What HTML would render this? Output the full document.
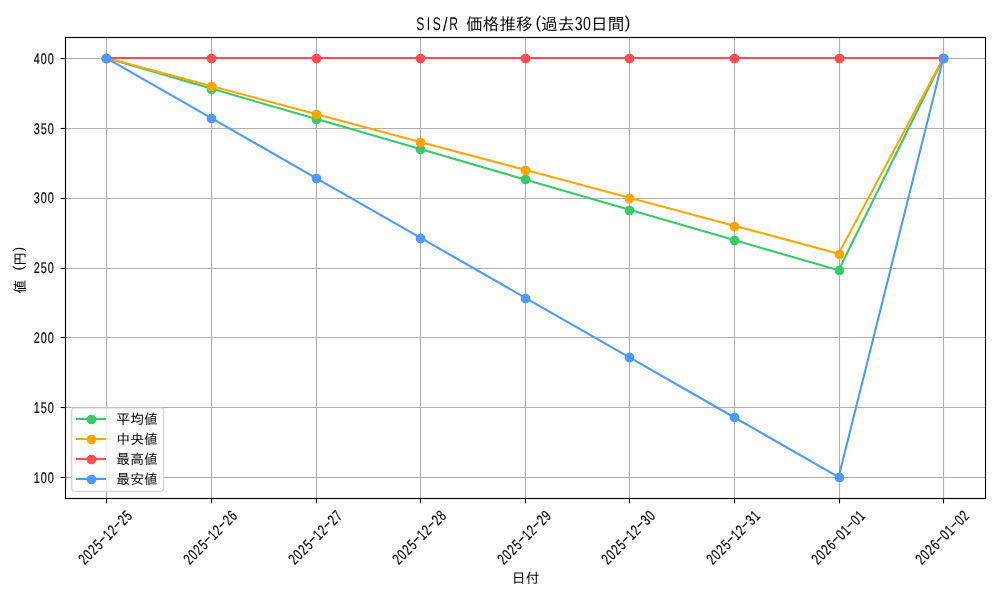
<!DOCTYPE html>
<html lang="ja"><head><meta charset="utf-8"><title>SIS/R 価格推移(過去30日間)</title>
<style>html,body{margin:0;padding:0;background:#fff}svg{display:block}text{font-family:"Liberation Sans", "IPAGothic", sans-serif;fill:#000}.l{text-rendering:geometricPrecision}.d{stroke:#000;stroke-width:0.2px}</style></head><body>
<svg width="1000" height="600" viewBox="0 0 1000 600">
<rect width="1000" height="600" fill="#fff"/>
<g stroke="#b0b0b0" stroke-width="1.11" fill="none">
<line x1="106.5" y1="37.50" x2="106.5" y2="498.50"/>
<line x1="211.5" y1="37.50" x2="211.5" y2="498.50"/>
<line x1="316.5" y1="37.50" x2="316.5" y2="498.50"/>
<line x1="420.5" y1="37.50" x2="420.5" y2="498.50"/>
<line x1="525.5" y1="37.50" x2="525.5" y2="498.50"/>
<line x1="629.5" y1="37.50" x2="629.5" y2="498.50"/>
<line x1="734.5" y1="37.50" x2="734.5" y2="498.50"/>
<line x1="839.5" y1="37.50" x2="839.5" y2="498.50"/>
<line x1="943.5" y1="37.50" x2="943.5" y2="498.50"/>
<line x1="65.50" y1="477.5" x2="985.50" y2="477.5"/>
<line x1="65.50" y1="407.5" x2="985.50" y2="407.5"/>
<line x1="65.50" y1="337.5" x2="985.50" y2="337.5"/>
<line x1="65.50" y1="268.5" x2="985.50" y2="268.5"/>
<line x1="65.50" y1="198.5" x2="985.50" y2="198.5"/>
<line x1="65.50" y1="128.5" x2="985.50" y2="128.5"/>
<line x1="65.50" y1="58.5" x2="985.50" y2="58.5"/>
</g>
<g stroke="#000" stroke-width="1.11" fill="none">
<line x1="106.5" y1="498.50" x2="106.5" y2="503.36"/>
<line x1="211.5" y1="498.50" x2="211.5" y2="503.36"/>
<line x1="316.5" y1="498.50" x2="316.5" y2="503.36"/>
<line x1="420.5" y1="498.50" x2="420.5" y2="503.36"/>
<line x1="525.5" y1="498.50" x2="525.5" y2="503.36"/>
<line x1="629.5" y1="498.50" x2="629.5" y2="503.36"/>
<line x1="734.5" y1="498.50" x2="734.5" y2="503.36"/>
<line x1="839.5" y1="498.50" x2="839.5" y2="503.36"/>
<line x1="943.5" y1="498.50" x2="943.5" y2="503.36"/>
<line x1="60.64" y1="477.5" x2="65.50" y2="477.5"/>
<line x1="60.64" y1="407.5" x2="65.50" y2="407.5"/>
<line x1="60.64" y1="337.5" x2="65.50" y2="337.5"/>
<line x1="60.64" y1="268.5" x2="65.50" y2="268.5"/>
<line x1="60.64" y1="198.5" x2="65.50" y2="198.5"/>
<line x1="60.64" y1="128.5" x2="65.50" y2="128.5"/>
<line x1="60.64" y1="58.5" x2="65.50" y2="58.5"/>
</g>
<g fill="#35cc68" stroke="#35cc68">
<polyline points="106.45,58.10 211.05,88.55 315.65,118.77 420.25,149.11 524.85,179.44 629.45,209.78 734.05,240.11 838.65,270.25 943.25,58.10" fill="none" stroke-width="2.08" stroke-linejoin="round" stroke-linecap="square"/>
<circle cx="106.5" cy="58.5" r="4.17" stroke-width="1.39"/>
<circle cx="211.5" cy="89.5" r="4.17" stroke-width="1.39"/>
<circle cx="316.5" cy="119.5" r="4.17" stroke-width="1.39"/>
<circle cx="420.5" cy="149.5" r="4.17" stroke-width="1.39"/>
<circle cx="525.5" cy="179.5" r="4.17" stroke-width="1.39"/>
<circle cx="629.5" cy="210.5" r="4.17" stroke-width="1.39"/>
<circle cx="734.5" cy="240.5" r="4.17" stroke-width="1.39"/>
<circle cx="839.5" cy="270.5" r="4.17" stroke-width="1.39"/>
<circle cx="943.5" cy="58.5" r="4.17" stroke-width="1.39"/>
</g>
<g fill="#ffa500" stroke="#ffa500">
<polyline points="106.45,58.10 211.05,86.03 315.65,113.97 420.25,141.90 524.85,169.83 629.45,197.77 734.05,225.70 838.65,253.63 943.25,58.10" fill="none" stroke-width="2.08" stroke-linejoin="round" stroke-linecap="square"/>
<circle cx="106.5" cy="58.5" r="4.17" stroke-width="1.39"/>
<circle cx="211.5" cy="86.5" r="4.17" stroke-width="1.39"/>
<circle cx="316.5" cy="114.5" r="4.17" stroke-width="1.39"/>
<circle cx="420.5" cy="142.5" r="4.17" stroke-width="1.39"/>
<circle cx="525.5" cy="170.5" r="4.17" stroke-width="1.39"/>
<circle cx="629.5" cy="198.5" r="4.17" stroke-width="1.39"/>
<circle cx="734.5" cy="226.5" r="4.17" stroke-width="1.39"/>
<circle cx="839.5" cy="254.5" r="4.17" stroke-width="1.39"/>
<circle cx="943.5" cy="58.5" r="4.17" stroke-width="1.39"/>
</g>
<g fill="#ff4d4d" stroke="#ff4d4d">
<polyline points="106.00,58.00 211.00,58.00 316.00,58.00 420.00,58.00 525.00,58.00 629.00,58.00 734.00,58.00 839.00,58.00 943.00,58.00" fill="none" stroke-width="2.08" stroke-linejoin="round" stroke-linecap="square"/>
<circle cx="106.5" cy="58.5" r="4.17" stroke-width="1.39"/>
<circle cx="211.5" cy="58.5" r="4.17" stroke-width="1.39"/>
<circle cx="316.5" cy="58.5" r="4.17" stroke-width="1.39"/>
<circle cx="420.5" cy="58.5" r="4.17" stroke-width="1.39"/>
<circle cx="525.5" cy="58.5" r="4.17" stroke-width="1.39"/>
<circle cx="629.5" cy="58.5" r="4.17" stroke-width="1.39"/>
<circle cx="734.5" cy="58.5" r="4.17" stroke-width="1.39"/>
<circle cx="839.5" cy="58.5" r="4.17" stroke-width="1.39"/>
<circle cx="943.5" cy="58.5" r="4.17" stroke-width="1.39"/>
</g>
<g fill="#4a9aff" stroke="#4a9aff">
<polyline points="106.45,58.10 211.05,117.96 315.65,177.81 420.25,237.67 524.85,297.53 629.45,357.39 734.05,417.24 838.65,477.10 943.25,58.10" fill="none" stroke-width="2.08" stroke-linejoin="round" stroke-linecap="square"/>
<circle cx="106.5" cy="58.5" r="4.17" stroke-width="1.39"/>
<circle cx="211.5" cy="118.5" r="4.17" stroke-width="1.39"/>
<circle cx="316.5" cy="178.5" r="4.17" stroke-width="1.39"/>
<circle cx="420.5" cy="238.5" r="4.17" stroke-width="1.39"/>
<circle cx="525.5" cy="298.5" r="4.17" stroke-width="1.39"/>
<circle cx="629.5" cy="357.5" r="4.17" stroke-width="1.39"/>
<circle cx="734.5" cy="417.5" r="4.17" stroke-width="1.39"/>
<circle cx="839.5" cy="477.5" r="4.17" stroke-width="1.39"/>
<circle cx="943.5" cy="58.5" r="4.17" stroke-width="1.39"/>
</g>
<rect x="65.5" y="37.5" width="920.0" height="461.0" fill="none" stroke="#000" stroke-width="1.11"/>
<rect x="71.70" y="407.90" width="91.80" height="83.50" rx="2.78" fill="#fff" fill-opacity="0.8" stroke="#ccc" stroke-opacity="0.8" stroke-width="1.39"/>
<g fill="#35cc68" stroke="#35cc68"><line x1="77" y1="419.0" x2="105" y2="419.0" stroke-width="2.08" stroke-linecap="square"/><circle cx="91.5" cy="419.5" r="4.17" stroke-width="1.39"/></g>
<g fill="#ffa500" stroke="#ffa500"><line x1="77" y1="439.0" x2="105" y2="439.0" stroke-width="2.08" stroke-linecap="square"/><circle cx="91.5" cy="439.5" r="4.17" stroke-width="1.39"/></g>
<g fill="#ff4d4d" stroke="#ff4d4d"><line x1="77" y1="459.0" x2="105" y2="459.0" stroke-width="2.08" stroke-linecap="square"/><circle cx="91.5" cy="459.5" r="4.17" stroke-width="1.39"/></g>
<g fill="#4a9aff" stroke="#4a9aff"><line x1="77" y1="479.0" x2="105" y2="479.0" stroke-width="2.08" stroke-linecap="square"/><circle cx="91.5" cy="479.5" r="4.17" stroke-width="1.39"/></g>
<g opacity="0.999">
<text class="l d" transform="translate(33.37,483.00) scale(0.7100,1)" font-size="15.35px" x="0.62 10.41 20.19" y="0">100</text>
<text class="l d" transform="translate(33.37,413.00) scale(0.7100,1)" font-size="15.35px" x="0.62 10.41 20.19" y="0">150</text>
<text class="l d" transform="translate(33.37,343.00) scale(0.7100,1)" font-size="15.35px" x="0.62 10.41 20.19" y="0">200</text>
<text class="l d" transform="translate(33.37,273.00) scale(0.7100,1)" font-size="15.35px" x="0.62 10.41 20.19" y="0">250</text>
<text class="l d" transform="translate(33.37,203.00) scale(0.7100,1)" font-size="15.35px" x="0.62 10.41 20.19" y="0">300</text>
<text class="l d" transform="translate(33.37,134.00) scale(0.7100,1)" font-size="15.35px" x="0.62 10.41 20.19" y="0">350</text>
<text class="l d" transform="translate(33.37,64.00) scale(0.7100,1)" font-size="15.35px" x="0.62 10.41 20.19" y="0">400</text>
<g transform="translate(108.90,541.10) rotate(-45)">
<text class="l d" transform="translate(-34.73,0.00) scale(0.7100,1)" font-size="15.35px" x="0.62 10.41 20.19 29.97 38.52 49.53 59.31 67.87 78.88 88.66" y="0.00 0.00 0.00 0.00 -2.60 0.00 0.00 -2.60 0.00 0.00">2025<tspan font-size="12.50px" textLength="10.99" lengthAdjust="spacingAndGlyphs">-</tspan>12<tspan font-size="12.50px" textLength="10.99" lengthAdjust="spacingAndGlyphs">-</tspan>25</text>
</g>
<g transform="translate(213.90,541.10) rotate(-45)">
<text class="l d" transform="translate(-34.73,0.00) scale(0.7100,1)" font-size="15.35px" x="0.62 10.41 20.19 29.97 38.52 49.53 59.31 67.87 78.88 88.66" y="0.00 0.00 0.00 0.00 -2.60 0.00 0.00 -2.60 0.00 0.00">2025<tspan font-size="12.50px" textLength="10.99" lengthAdjust="spacingAndGlyphs">-</tspan>12<tspan font-size="12.50px" textLength="10.99" lengthAdjust="spacingAndGlyphs">-</tspan>26</text>
</g>
<g transform="translate(318.90,541.10) rotate(-45)">
<text class="l d" transform="translate(-34.73,0.00) scale(0.7100,1)" font-size="15.35px" x="0.62 10.41 20.19 29.97 38.52 49.53 59.31 67.87 78.88 88.66" y="0.00 0.00 0.00 0.00 -2.60 0.00 0.00 -2.60 0.00 0.00">2025<tspan font-size="12.50px" textLength="10.99" lengthAdjust="spacingAndGlyphs">-</tspan>12<tspan font-size="12.50px" textLength="10.99" lengthAdjust="spacingAndGlyphs">-</tspan>27</text>
</g>
<g transform="translate(422.90,541.10) rotate(-45)">
<text class="l d" transform="translate(-34.73,0.00) scale(0.7100,1)" font-size="15.35px" x="0.62 10.41 20.19 29.97 38.52 49.53 59.31 67.87 78.88 88.66" y="0.00 0.00 0.00 0.00 -2.60 0.00 0.00 -2.60 0.00 0.00">2025<tspan font-size="12.50px" textLength="10.99" lengthAdjust="spacingAndGlyphs">-</tspan>12<tspan font-size="12.50px" textLength="10.99" lengthAdjust="spacingAndGlyphs">-</tspan>28</text>
</g>
<g transform="translate(527.90,541.10) rotate(-45)">
<text class="l d" transform="translate(-34.73,0.00) scale(0.7100,1)" font-size="15.35px" x="0.62 10.41 20.19 29.97 38.52 49.53 59.31 67.87 78.88 88.66" y="0.00 0.00 0.00 0.00 -2.60 0.00 0.00 -2.60 0.00 0.00">2025<tspan font-size="12.50px" textLength="10.99" lengthAdjust="spacingAndGlyphs">-</tspan>12<tspan font-size="12.50px" textLength="10.99" lengthAdjust="spacingAndGlyphs">-</tspan>29</text>
</g>
<g transform="translate(631.90,541.10) rotate(-45)">
<text class="l d" transform="translate(-34.73,0.00) scale(0.7100,1)" font-size="15.35px" x="0.62 10.41 20.19 29.97 38.52 49.53 59.31 67.87 78.88 88.66" y="0.00 0.00 0.00 0.00 -2.60 0.00 0.00 -2.60 0.00 0.00">2025<tspan font-size="12.50px" textLength="10.99" lengthAdjust="spacingAndGlyphs">-</tspan>12<tspan font-size="12.50px" textLength="10.99" lengthAdjust="spacingAndGlyphs">-</tspan>30</text>
</g>
<g transform="translate(736.90,541.10) rotate(-45)">
<text class="l d" transform="translate(-34.73,0.00) scale(0.7100,1)" font-size="15.35px" x="0.62 10.41 20.19 29.97 38.52 49.53 59.31 67.87 78.88 88.66" y="0.00 0.00 0.00 0.00 -2.60 0.00 0.00 -2.60 0.00 0.00">2025<tspan font-size="12.50px" textLength="10.99" lengthAdjust="spacingAndGlyphs">-</tspan>12<tspan font-size="12.50px" textLength="10.99" lengthAdjust="spacingAndGlyphs">-</tspan>31</text>
</g>
<g transform="translate(841.90,541.10) rotate(-45)">
<text class="l d" transform="translate(-34.73,0.00) scale(0.7100,1)" font-size="15.35px" x="0.62 10.41 20.19 29.97 38.52 49.53 59.31 67.87 78.88 88.66" y="0.00 0.00 0.00 0.00 -2.60 0.00 0.00 -2.60 0.00 0.00">2026<tspan font-size="12.50px" textLength="10.99" lengthAdjust="spacingAndGlyphs">-</tspan>01<tspan font-size="12.50px" textLength="10.99" lengthAdjust="spacingAndGlyphs">-</tspan>01</text>
</g>
<g transform="translate(945.90,541.10) rotate(-45)">
<text class="l d" transform="translate(-34.73,0.00) scale(0.7100,1)" font-size="15.35px" x="0.62 10.41 20.19 29.97 38.52 49.53 59.31 67.87 78.88 88.66" y="0.00 0.00 0.00 0.00 -2.60 0.00 0.00 -2.60 0.00 0.00">2026<tspan font-size="12.50px" textLength="10.99" lengthAdjust="spacingAndGlyphs">-</tspan>01<tspan font-size="12.50px" textLength="10.99" lengthAdjust="spacingAndGlyphs">-</tspan>02</text>
</g>
<text font-size="13.89px" x="511.80 525.69" y="583.00">日付</text>
<text class="l" transform="translate(24.90,293.50) rotate(-90)" font-size="13.89px"><tspan x="0.00" y="0.00">値</tspan><tspan x="13.89" y="0.00"> </tspan><tspan class="l" x="22.92" y="-1.90" font-size="14.20px" textLength="4.73" lengthAdjust="spacingAndGlyphs">(</tspan><tspan x="27.78" y="0.00">円</tspan><tspan class="l" x="42.04" y="-1.90" font-size="14.20px" textLength="4.73" lengthAdjust="spacingAndGlyphs">)</tspan></text>
<text font-size="16.67px"><tspan class="l" x="416.17" y="30.00" font-size="18.40px" textLength="8.10" lengthAdjust="spacingAndGlyphs">S</tspan><tspan class="l" x="426.86" y="30.00" font-size="18.40px" textLength="3.38" lengthAdjust="spacingAndGlyphs">I</tspan><tspan class="l" x="432.84" y="30.00" font-size="18.40px" textLength="8.10" lengthAdjust="spacingAndGlyphs">S</tspan><tspan class="l" x="442.92" y="30.90" font-size="19.50px" textLength="4.61" lengthAdjust="spacingAndGlyphs">/</tspan><tspan class="l" x="449.17" y="30.00" font-size="18.40px" textLength="8.77" lengthAdjust="spacingAndGlyphs">R</tspan><tspan x="457.72" y="30.00"> </tspan><tspan x="466.06 482.73 499.40 516.07" y="30.00">価格推移</tspan><tspan class="l" x="535.38" y="28.10" font-size="17.00px" textLength="5.66" lengthAdjust="spacingAndGlyphs">(</tspan><tspan x="541.07 557.74" y="30.00">過去</tspan><tspan class="l" x="574.67" y="30.00" font-size="19.00px" textLength="7.82" lengthAdjust="spacingAndGlyphs">3</tspan><tspan class="l" x="583.01" y="30.00" font-size="19.00px" textLength="7.82" lengthAdjust="spacingAndGlyphs">0</tspan><tspan x="591.09 607.75" y="30.00">日間</tspan><tspan class="l" x="624.72" y="28.10" font-size="17.00px" textLength="5.66" lengthAdjust="spacingAndGlyphs">)</tspan></text>
<text font-size="13.89px" x="116.30 130.19 144.08" y="423.90">平均値</text>
<text font-size="13.89px" x="116.30 130.19 144.08" y="443.90">中央値</text>
<text font-size="13.89px" x="116.30 130.19 144.08" y="463.90">最高値</text>
<text font-size="13.89px" x="116.30 130.19 144.08" y="483.90">最安値</text>
</g>
</svg></body></html>
